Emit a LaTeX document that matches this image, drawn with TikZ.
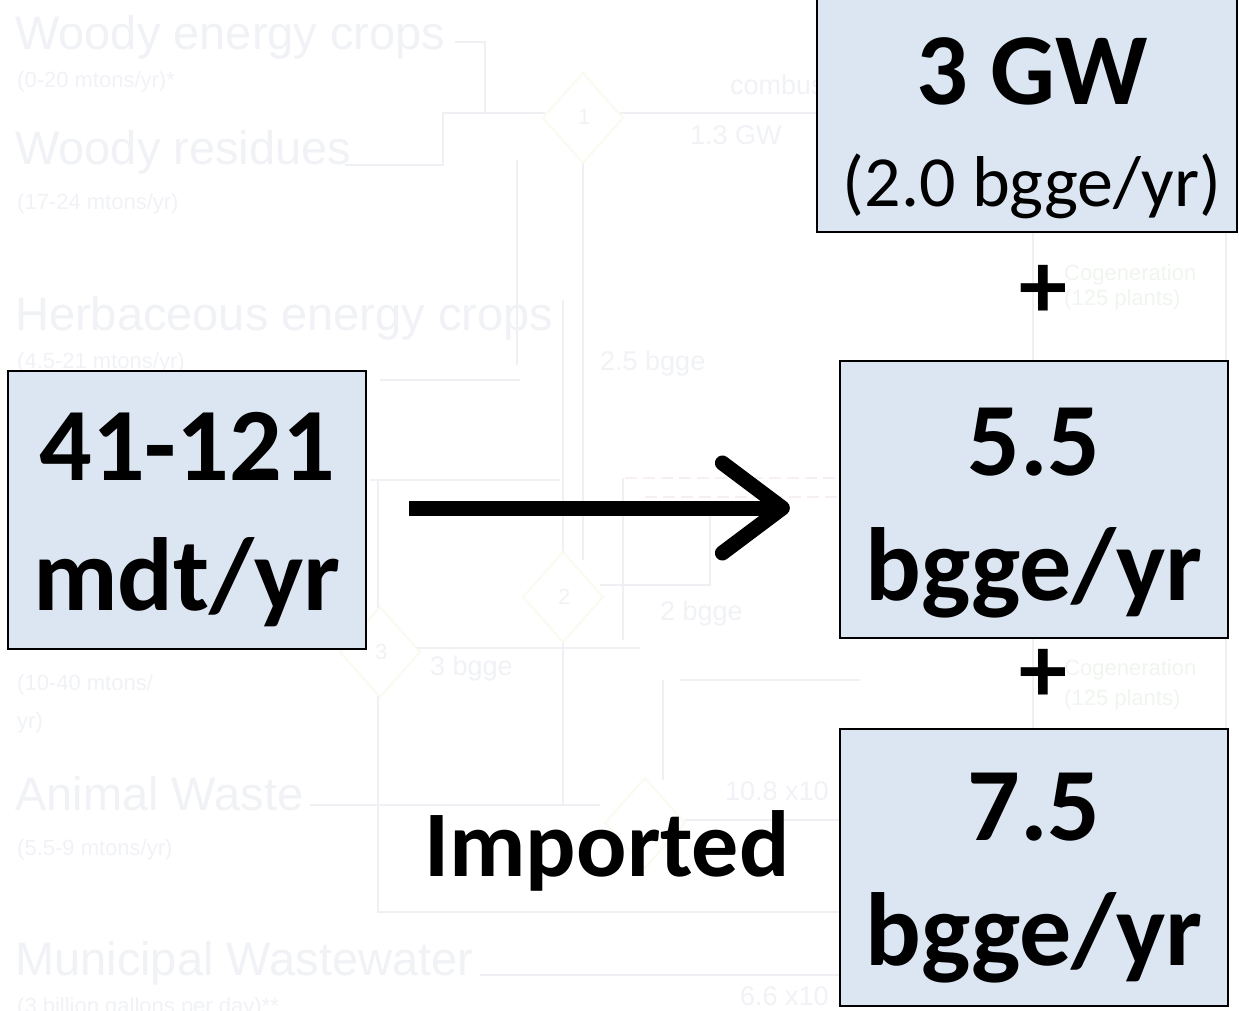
\documentclass[tikz,border=0pt]{standalone}
\usepackage{fontspec}
\setmainfont{Carlito}
\newfontfamily\bgfont{Liberation Sans}
\usetikzlibrary{arrows.meta}
\definecolor{boxfill}{HTML}{DCE6F2}
\definecolor{fadetext}{HTML}{F0F2F6}
\definecolor{fadeline}{HTML}{EEF0F3}
\definecolor{fadegreen}{HTML}{F0F5EF}
\definecolor{fadediam}{HTML}{FBFAF1}
\definecolor{fadepink}{HTML}{F5EEF4}
\tikzset{
  valbox/.style={draw=black, line width=2.2pt, fill=boxfill, inner sep=0pt},
  bigtxt/.style={font=\fontsize{104}{110}\selectfont\bfseries, inner sep=0pt, anchor=base},
  bgtitle/.style={font=\bgfont\fontsize{47}{50}\selectfont, text=fadetext, anchor=base west, inner sep=0pt},
  bgsub/.style={font=\bgfont\fontsize{22}{24}\selectfont, text=fadetext, anchor=base west, inner sep=0pt},
  bglab/.style={font=\bgfont\fontsize{27}{30}\selectfont, text=fadetext, anchor=base west, inner sep=0pt},
  bgcog/.style={font=\bgfont\fontsize{22}{24}\selectfont, text=fadegreen, anchor=base west, inner sep=0pt},
  bgline/.style={draw=fadeline, line width=2pt},
  bgdash/.style={draw=fadepink, line width=2pt, dash pattern=on 12pt off 6pt},
  bgdiam/.style={draw=fadediam, fill=white, line width=2pt},
  flow/.style={line width=15pt, -{Straight Barb[length=60pt, width=90pt, line width=15pt, round]}}
}
\begin{document}
\begin{tikzpicture}[x=1pt,y=-1pt]
\useasboundingbox (0,0) rectangle (1239,1011);
\fill[white] (0,0) rectangle (1239,1011);
% ---------- faded background diagram ----------
\draw[bgline] (455,42) -- (485,42) -- (485,113) -- (545,113);
\draw[bgline] (345,165) -- (443,165) -- (443,113) -- (485,113);
\draw[bgline] (620,113) -- (817,113);
\draw[bgline] (517,365) -- (517,160);
\draw[bgline] (583,160) -- (583,560);
\draw[bgline] (563,300) -- (563,560);
\draw[bgline] (370,480) -- (560,480);
\draw[bgdash] (625,478) -- (840,478);
\draw[bgdash] (645,497) -- (840,497);
\draw[bgline] (623,478) -- (623,640);
\draw[bgline] (710,505) -- (710,585) -- (600,585);
\draw[bgline] (380,380) -- (520,380);
\draw[bgline] (380,648) -- (640,648);
\draw[bgline] (378,480) -- (378,912) -- (840,912);
\draw[bgline] (310,805) -- (600,805);
\draw[bgline] (480,975) -- (840,975);
\draw[bgline] (680,680) -- (860,680);
\draw[bgline] (663,680) -- (663,780);
\draw[bgline] (563,640) -- (563,805);
\draw[bgline] (685,820) -- (840,820);
\draw[bgline] (1033,232) -- (1033,361);
\draw[bgline] (1033,638) -- (1033,729);
\draw[bgline] (1226,232) -- (1226,361);
\draw[bgline] (1226,638) -- (1226,729);
\draw[bgdiam] (583,73) -- (623,118) -- (583,163) -- (543,118) -- cycle;
\draw[bgdiam] (563,552) -- (603,597) -- (563,642) -- (523,597) -- cycle;
\draw[bgdiam] (380,607) -- (420,652) -- (380,697) -- (340,652) -- cycle;
\draw[bgdiam] (645,778) -- (685,823) -- (645,868) -- (605,823) -- cycle;
\node[bgsub] (n1) at (578,125) {1};
\node[bgsub] (n2) at (558,604) {2};
\node[bgsub] (n3) at (375,659) {3};
\node[bgtitle] (t1) at (15,50) {Woody energy crops};
\node[bgsub] (s1) at (17,88) {(0-20 mtons/yr)*};
\node[bgtitle] (t2) at (15,165) {Woody residues};
\node[bgsub] (s2) at (17,210) {(17-24 mtons/yr)};
\node[bgtitle] (t3) at (15,330) {Herbaceous energy crops};
\node[bgsub] (s3) at (17,368) {(4.5-21 mtons/yr)};
\node[bgsub] (s4) at (17,690) {(10-40 mtons/};
\node[bgsub] (s4b) at (17,728) {yr)};
\node[bgtitle] (t5) at (15,810) {Animal Waste};
\node[bgsub] (s5) at (17,855) {(5.5-9 mtons/yr)};
\node[bgtitle] (t6) at (15,975) {Municipal Wastewater};
\node[bgsub] (s6) at (17,1013) {(3 billion gallons per day)**};
\node[bglab] (l1) at (730,95) {combustion};
\node[bglab] (l2) at (690,145) {1.3 GW};
\node[bglab] (l3) at (600,370) {2.5 bgge};
\node[bglab] (l4) at (660,620) {2 bgge};
\node[bglab] (l5) at (430,675) {3 bgge};
\node[bglab] (l6) at (725,800) {10.8 x10};
\node[bglab] (l7) at (740,1005) {6.6 x10};
\node[bgcog] (c1) at (1064,280) {Cogeneration};
\node[bgcog] (c1b) at (1064,305) {(125 plants)};
\node[bgcog] (c2) at (1064,675) {Cogeneration};
\node[bgcog] (c2b) at (1064,705) {(125 plants)};
% ---------- foreground ----------
\node[valbox, minimum width=358pt, minimum height=278pt] (lbox) at (187,510) {};
\node[valbox, minimum width=420pt, minimum height=240pt] (tbox) at (1027,112) {};
\node[valbox, minimum width=388pt, minimum height=277pt] (mbox) at (1034,499.5) {};
\node[valbox, minimum width=388pt, minimum height=277pt] (bbox) at (1034,867.5) {};
\node[bigtxt] (a1) at (187,480) {41-121};
\node[bigtxt] (a2) at (187,610) {mdt/yr};
\node[bigtxt, font=\fontsize{102}{105}\selectfont\bfseries] (g1) at (1032,105) {3 GW};
\node[bigtxt, font=\fontsize{72}{76}\selectfont] (g2) at (1032,207) {(2.0 bgge/yr)};
\node[bigtxt] (m1) at (1034,475) {5.5};
\node[bigtxt] (m2) at (1034,600) {bgge/yr};
\node[bigtxt] (b1) at (1034,840) {7.5};
\node[bigtxt] (b2) at (1034,965) {bgge/yr};
\node[bigtxt, font=\fontsize{94}{100}\selectfont\bfseries] (imp) at (607,876) {Imported};
\node[font=\fontsize{96}{100}\selectfont\bfseries, inner sep=0pt] (p1) at (1043,292) {+};
\node[font=\fontsize{96}{100}\selectfont\bfseries, inner sep=0pt] (p2) at (1043,676) {+};
\coordinate (astart) at ([xshift=42pt,yshift=2pt]lbox.east);
\coordinate (aend) at ([xshift=-49pt]mbox.west |- astart);
\draw[flow] (astart) -- (aend);
\end{tikzpicture}
\end{document}
